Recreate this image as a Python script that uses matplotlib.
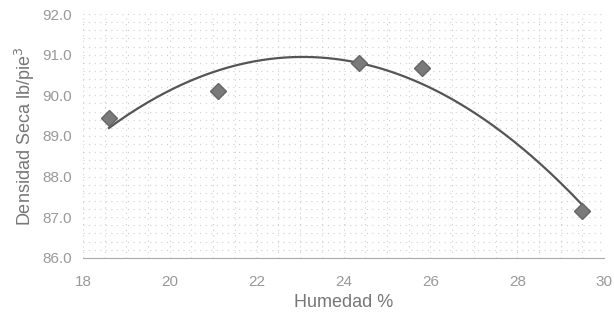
import numpy as np
import matplotlib.pyplot as plt
from matplotlib.ticker import MultipleLocator

humedad = [18.6, 21.1, 24.35, 25.8, 29.5]
densidad = [89.45, 90.1, 90.8, 90.68, 87.15]

xticks = [18, 20, 22, 24, 26, 28, 30]
yticks = [86.0, 87.0, 88.0, 89.0, 90.0, 91.0, 92.0]

plt.rcParams['font.family'] = ['Liberation Sans', 'DejaVu Sans']

fig = plt.figure(figsize=(6.14, 3.26), dpi=100)
ax = fig.add_axes([0.135, 0.209, 0.849, 0.748])

# polynomial trend line from the measured points
coef = np.polyfit(humedad, densidad, 2)
xs = np.linspace(min(humedad), max(humedad), 200)
ax.plot(xs, np.polyval(coef, xs), color='#555555', lw=1.6, zorder=3)
ax.plot(humedad, densidad, ls='none', marker='D', ms=8.5, color='#7a7a7a',
        mec='#666666', zorder=4)

ax.set_xlim(18, 30)
ax.set_ylim(86, 92)
ax.set_xticks(xticks)
ax.set_yticks(yticks)
ax.set_yticklabels([f'{v:.1f}' for v in yticks])
ax.xaxis.set_minor_locator(MultipleLocator(0.5))
ax.yaxis.set_minor_locator(MultipleLocator(0.2))
ax.grid(which='both', color='#cfcfcf', ls=(0, (1, 4)), lw=0.8)
ax.set_axisbelow(True)

for s in ['top', 'right', 'left']:
    ax.spines[s].set_visible(False)
ax.spines['bottom'].set_color('#aaaaaa')
ax.spines['bottom'].set_linestyle((0, (3, 1)))
ax.tick_params(which='both', length=0, colors='#999999', labelsize=11)
ax.tick_params(axis='x', pad=12)
ax.tick_params(axis='y', pad=8)

ax.set_xlabel('Humedad %', color='#777777', fontsize=13, labelpad=4)
ax.set_ylabel('Densidad Seca lb/pie$^3$', color='#777777', fontsize=13, labelpad=4)

fig.savefig('out.png', dpi=100)
